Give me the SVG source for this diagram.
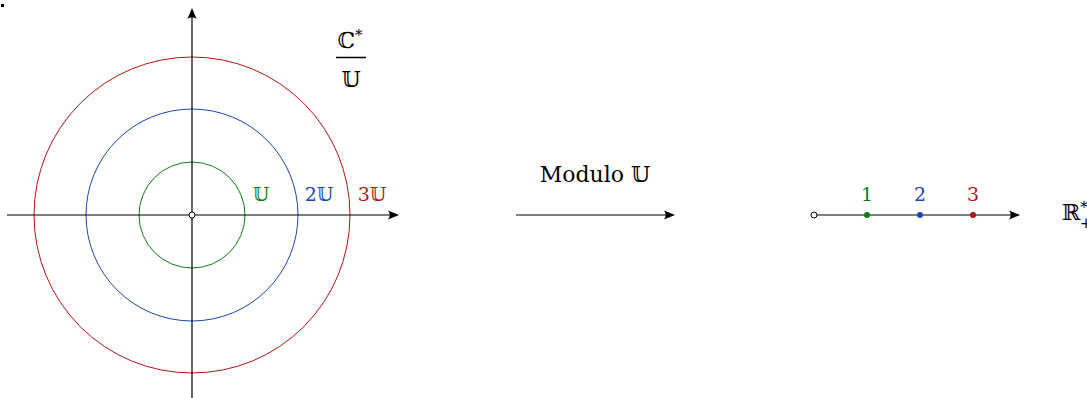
<svg xmlns="http://www.w3.org/2000/svg" width="1087" height="398" viewBox="0 0 1087 398">
<defs>
<style>
.ax{stroke:#000;stroke-width:1.2;fill:none}
.tip{fill:#000;stroke:none}
.t{font-family:"DejaVu Serif","Liberation Serif",serif}
.g{fill:#137a13}
.b{fill:#1a46b0}
.r{fill:#b01515}
</style>
<path id="ah" d="M0,0 L-11,-4.6 Q-7.5,0 -11,4.6 Z"/>
</defs>
<rect width="1087" height="398" fill="#fff"/>
<rect x="1" y="4" width="3" height="3" fill="#000"/>
<g id="circles">
<circle cx="192" cy="215" r="53" fill="none" stroke="#137a13" stroke-width="1"/>
<circle cx="192" cy="215" r="106" fill="none" stroke="#1a46b0" stroke-width="1"/>
<circle cx="192" cy="215" r="158" fill="none" stroke="#b01515" stroke-width="1"/>
</g>
<g id="connectors">
<line class="ax" x1="7" y1="215" x2="396" y2="215"/>
<use href="#ah" transform="translate(399,215)" class="tip"/>
<line class="ax" x1="192" y1="398" x2="192" y2="11"/>
<use href="#ah" transform="translate(192,8) rotate(-90)" class="tip"/>
<line class="ax" x1="516" y1="215" x2="672" y2="215"/>
<use href="#ah" transform="translate(675,215)" class="tip"/>
<line class="ax" x1="814" y1="215" x2="1017" y2="215"/>
<use href="#ah" transform="translate(1020,215)" class="tip"/>
</g>
<g id="origin"><circle cx="192" cy="215" r="3" fill="#fff" stroke="#000" stroke-width="1"/></g>
<g id="zero"><circle cx="814" cy="215" r="3" fill="#fff" stroke="#000" stroke-width="1"/></g>
<g id="p1"><circle cx="867" cy="215" r="3" class="g"/><text class="t g" x="867" y="201" font-size="19" text-anchor="middle">1</text></g>
<g id="p2"><circle cx="920" cy="215" r="3" class="b"/><text class="t b" x="920" y="201" font-size="19" text-anchor="middle">2</text></g>
<g id="p3"><circle cx="973" cy="215" r="3" class="r"/><text class="t r" x="973" y="201" font-size="19" text-anchor="middle">3</text></g>
<g id="labels">
<text class="t g" x="261" y="201" font-size="19" text-anchor="middle">𝕌</text>
<text class="t b" x="319" y="201" font-size="19" text-anchor="middle">2𝕌</text>
<text class="t r" x="372" y="201" font-size="19" text-anchor="middle">3𝕌</text>
</g>
<g id="quotient">
<text class="t" x="350" y="48" font-size="22" text-anchor="middle">ℂ<tspan font-size="15" dy="-8">*</tspan></text>
<line x1="336" y1="57.5" x2="366" y2="57.5" stroke="#000" stroke-width="1.5"/>
<text class="t" x="351" y="87" font-size="22" text-anchor="middle">𝕌</text>
</g>
<g id="modulo"><text class="t" x="595" y="182" font-size="22" text-anchor="middle">Modulo 𝕌</text></g>
<g id="rplus"><text class="t" x="1062" y="220" font-size="22">ℝ<tspan font-size="15" dy="-8">*</tspan><tspan font-size="15" dx="-8" dy="16">+</tspan></text></g>
</svg>
